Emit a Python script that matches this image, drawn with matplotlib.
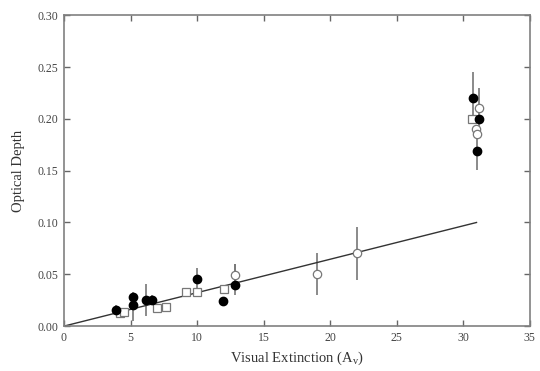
import matplotlib
matplotlib.use('Agg')
import matplotlib.pyplot as plt
import numpy as np

plt.rcParams['font.family'] = ['Liberation Serif', 'DejaVu Serif']

# filled circles: x, y, lower err, upper err
filled_x = [3.9, 5.2, 5.2, 6.2, 6.6, 10.0, 11.95, 12.85, 30.7, 31.2, 31.0]
filled_y = [0.016, 0.028, 0.020, 0.025, 0.025, 0.045, 0.024, 0.040, 0.220, 0.200, 0.169]
filled_lo = [0.0, 0.0, 0.015, 0.015, 0.0, 0.010, 0.0, 0.010, 0.020, 0.0, 0.018]
filled_hi = [0.004, 0.005, 0.005, 0.016, 0.005, 0.011, 0.0, 0.020, 0.025, 0.0, 0.016]

# open circles
open_x = [12.85, 19.0, 22.0, 31.2, 30.95, 31.0]
open_y = [0.049, 0.050, 0.0705, 0.210, 0.190, 0.185]
open_lo = [0.010, 0.020, 0.026, 0.025, 0.0, 0.0]
open_hi = [0.011, 0.021, 0.025, 0.020, 0.0, 0.0]

# open squares
sq_x = [4.2, 4.5, 7.0, 7.7, 9.2, 10.0, 12.0, 30.65]
sq_y = [0.0126, 0.0136, 0.0174, 0.0184, 0.033, 0.033, 0.036, 0.200]

# fit line
fit_x = [0.0, 31.0]
fit_y = [0.0, 0.1]

fig = plt.figure(figsize=(5.4, 3.71), dpi=100)
ax = fig.add_axes([0.1185, 0.121, 0.8625, 0.838])

ax.plot(fit_x, fit_y, color='#333333', lw=1.0, zorder=2)

ax.errorbar(filled_x, filled_y, yerr=[filled_lo, filled_hi], fmt='none',
            ecolor='#777777', elinewidth=1.2, capsize=0, zorder=1)
ax.errorbar(open_x, open_y, yerr=[open_lo, open_hi], fmt='none',
            ecolor='#777777', elinewidth=1.2, capsize=0, zorder=1)

ax.plot(sq_x, sq_y, 's', ms=6, mfc='white', mec='#777777', mew=0.9, zorder=3)
ax.plot(open_x, open_y, 'o', ms=6, mfc='white', mec='#777777', mew=0.9, zorder=3)
ax.plot(filled_x, filled_y, 'o', ms=6, color='black', zorder=4)

ax.set_xlim(0, 35)
ax.set_ylim(0, 0.30)
ax.set_xticks(np.arange(0, 36, 5))
ax.set_yticks(np.arange(0, 0.31, 0.05))
ax.yaxis.set_major_formatter(matplotlib.ticker.FormatStrFormatter('%.2f'))
ax.tick_params(direction='in', top=True, right=True, length=4, width=1,
               color='#666666', labelsize=8.5, labelcolor='#444444', pad=4)
for s in ax.spines.values():
    s.set_color('#808080')
    s.set_linewidth(1.2)

ax.set_xlabel('Visual Extinction (A$_\\mathregular{v}$)', fontsize=10.5, color='#333333', labelpad=4)
ax.set_ylabel('Optical Depth', fontsize=10.5, color='#333333', labelpad=9)

fig.savefig('out.png', dpi=100)
